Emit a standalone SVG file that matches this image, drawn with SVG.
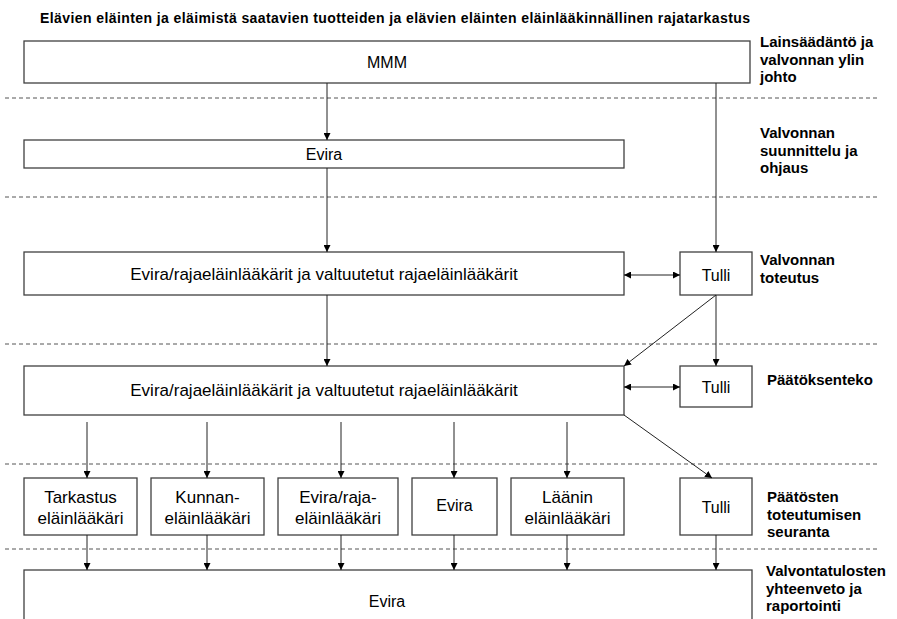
<svg xmlns="http://www.w3.org/2000/svg" width="897" height="619" viewBox="0 0 897 619">
<defs>
<style>
.box{fill:#fff;stroke:#404040;stroke-width:1.3}
.t{font-family:"Liberation Sans",Arial,sans-serif;font-size:16px;fill:#000;text-anchor:middle}
.w{font-size:17px}
.lab{font-family:"Liberation Sans",Arial,sans-serif;font-size:15px;font-weight:bold;fill:#000}
.title{font-family:"Liberation Sans",Arial,sans-serif;font-size:14px;font-weight:bold;fill:#000}
.dash{stroke:#555;stroke-width:1;stroke-dasharray:4 3;fill:none}
.c{stroke:#222;stroke-width:1;fill:none}
</style>
<marker id="ah" viewBox="0 0 10 10" refX="10" refY="5" markerWidth="7" markerHeight="7" markerUnits="userSpaceOnUse" orient="auto-start-reverse">
<path d="M0,0 L10,5 L0,10 Z" fill="#000"/>
</marker>
</defs>
<rect width="897" height="619" fill="#fff"/>
<text class="title" x="40" y="23" textLength="710" lengthAdjust="spacing">Elävien eläinten ja eläimistä  saatavien tuotteiden ja elävien eläinten eläinlääkinnällinen rajatarkastus</text>

<g id="lanes">
<line class="dash" x1="5" y1="98" x2="877" y2="98"/>
<line class="dash" x1="5" y1="197" x2="877" y2="197"/>
<line class="dash" x1="5" y1="344" x2="877" y2="344"/>
<line class="dash" x1="5" y1="464" x2="877" y2="464"/>
<line class="dash" x1="5" y1="549" x2="877" y2="549"/>
<text class="lab" x="760" y="47">Lainsäädäntö ja</text>
<text class="lab" x="760" y="65">valvonnan ylin</text>
<text class="lab" x="760" y="82">johto</text>
<text class="lab" x="760" y="138">Valvonnan</text>
<text class="lab" x="760" y="156">suunnittelu ja</text>
<text class="lab" x="760" y="173">ohjaus</text>
<text class="lab" x="760" y="265">Valvonnan</text>
<text class="lab" x="760" y="283">toteutus</text>
<text class="lab" x="767" y="385">Päätöksenteko</text>
<text class="lab" x="767" y="502">Päätösten</text>
<text class="lab" x="767" y="520">toteutumisen</text>
<text class="lab" x="767" y="537">seuranta</text>
<text class="lab" x="766" y="576">Valvontatulosten</text>
<text class="lab" x="766" y="594">yhteenveto ja</text>
<text class="lab" x="766" y="611">raportointi</text>
</g>

<g id="mmm"><rect class="box" x="24" y="41" width="726" height="42"/><text class="t" x="387" y="68">MMM</text></g>
<g id="evira1"><rect class="box" x="24" y="140" width="600" height="28"/><text class="t" x="324" y="160">Evira</text></g>
<g id="evira-raja1"><rect class="box" x="24" y="252" width="600" height="43"/><text class="t w" x="324" y="280">Evira/rajaeläinlääkärit  ja  valtuutetut  rajaeläinlääkärit</text></g>
<g id="tulli1"><rect class="box" x="680" y="252" width="72" height="43"/><text class="t" x="716" y="281">Tulli</text></g>
<g id="evira-raja2"><rect class="box" x="24" y="366" width="600" height="49"/><text class="t w" x="324" y="396">Evira/rajaeläinlääkärit  ja  valtuutetut  rajaeläinlääkärit</text></g>
<g id="tulli2"><rect class="box" x="680" y="366" width="72" height="41"/><text class="t" x="716" y="393">Tulli</text></g>
<g id="tarkastus"><rect class="box" x="24" y="478" width="113" height="57"/><text class="t w" x="80.5" y="503">Tarkastus</text><text class="t w" x="80.5" y="524">eläinlääkäri</text></g>
<g id="kunnan"><rect class="box" x="151" y="478" width="113" height="57"/><text class="t w" x="207.5" y="503">Kunnan-</text><text class="t w" x="207.5" y="524">eläinlääkäri</text></g>
<g id="evira-raja3"><rect class="box" x="278" y="478" width="120" height="57"/><text class="t w" x="338" y="503">Evira/raja-</text><text class="t w" x="338" y="524">eläinlääkäri</text></g>
<g id="evira3"><rect class="box" x="412" y="478" width="85" height="57"/><text class="t" x="454.5" y="511">Evira</text></g>
<g id="laanin"><rect class="box" x="511" y="478" width="113" height="57"/><text class="t w" x="567.5" y="503">Läänin</text><text class="t w" x="567.5" y="524">eläinlääkäri</text></g>
<g id="tulli3"><rect class="box" x="680" y="478" width="72" height="57"/><text class="t" x="716" y="513">Tulli</text></g>
<g id="evira-bottom"><rect class="box" x="24" y="570" width="728" height="60"/><text class="t" x="387" y="607">Evira</text></g>

<g id="connectors">
<line class="c" x1="327" y1="83" x2="327" y2="140" marker-end="url(#ah)"/>
<line class="c" x1="716" y1="83" x2="716" y2="252" marker-end="url(#ah)"/>
<line class="c" x1="327" y1="168" x2="327" y2="252" marker-end="url(#ah)"/>
<line class="c" x1="624" y1="275" x2="680" y2="275" marker-start="url(#ah)" marker-end="url(#ah)"/>
<line class="c" x1="327" y1="295" x2="327" y2="366" marker-end="url(#ah)"/>
<line class="c" x1="716" y1="295" x2="624" y2="366" marker-end="url(#ah)"/>
<line class="c" x1="716" y1="295" x2="716" y2="366" marker-end="url(#ah)"/>
<line class="c" x1="624" y1="387" x2="680" y2="387" marker-start="url(#ah)" marker-end="url(#ah)"/>
<line class="c" x1="624" y1="415" x2="712" y2="478" marker-end="url(#ah)"/>
<line class="c" x1="87" y1="422" x2="87" y2="478" marker-end="url(#ah)"/>
<line class="c" x1="207" y1="422" x2="207" y2="478" marker-end="url(#ah)"/>
<line class="c" x1="341" y1="422" x2="341" y2="478" marker-end="url(#ah)"/>
<line class="c" x1="454" y1="422" x2="454" y2="478" marker-end="url(#ah)"/>
<line class="c" x1="567" y1="422" x2="567" y2="478" marker-end="url(#ah)"/>
<line class="c" x1="87" y1="535" x2="87" y2="570" marker-end="url(#ah)"/>
<line class="c" x1="207" y1="535" x2="207" y2="570" marker-end="url(#ah)"/>
<line class="c" x1="341" y1="535" x2="341" y2="570" marker-end="url(#ah)"/>
<line class="c" x1="454" y1="535" x2="454" y2="570" marker-end="url(#ah)"/>
<line class="c" x1="567" y1="535" x2="567" y2="570" marker-end="url(#ah)"/>
<line class="c" x1="716" y1="535" x2="716" y2="570" marker-end="url(#ah)"/>
</g>
</svg>
